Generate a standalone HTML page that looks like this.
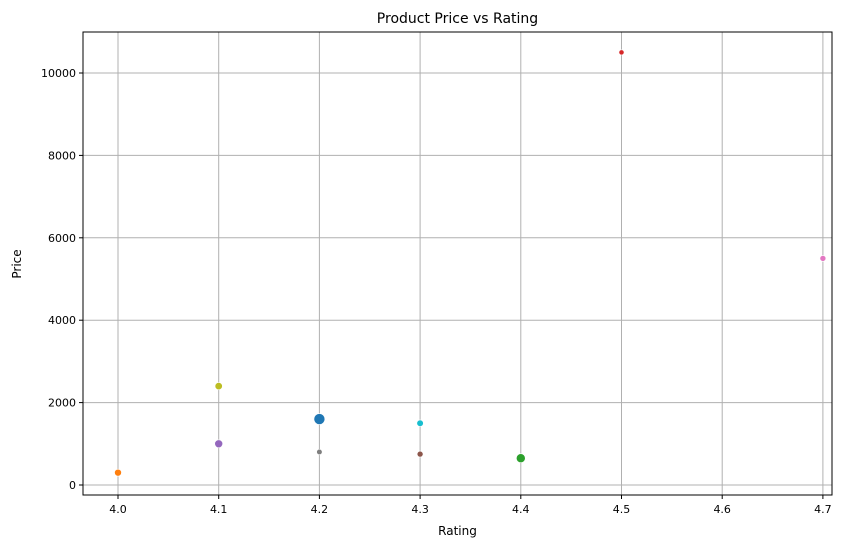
<!DOCTYPE html>
<html><head><meta charset="utf-8"><style>body{margin:0;background:#fff}svg{font-family:"DejaVu Sans","Liberation Sans",sans-serif}</style></head>
<body>
<svg id="c" width="868" height="547"></svg>
<script>
const ratings=[4.2,4.0,4.4,4.5,4.1,4.3,4.7,4.2,4.1,4.3];
const prices=[1600,300,650,10500,1000,750,5500,800,2400,1500];
const sizes=[5.5,3.5,4.5,2.6,4,3,3,2.8,3.7,3.3];
const colors=["#1f77b4","#ff7f0e","#2ca02c","#d62728","#9467bd","#8c564b","#e377c2","#7f7f7f","#bcbd22","#17becf"];
const xTicks=["4.0","4.1","4.2","4.3","4.4","4.5","4.6","4.7"];
const yTicks=["0","2000","4000","6000","8000","10000"];
const L=83,R=832,T=32,B=495;
const X=v=>118+(v-4.0)*1007;
const Y=v=>485-v*0.0412;
const s=document.getElementById('c');const NS="http://www.w3.org/2000/svg";
function mk(t,a,p){const e=document.createElementNS(NS,t);for(const k in a)e.setAttribute(k,a[k]);(p||s).appendChild(e);return e;}
xTicks.forEach(t=>{const x=X(+t);
const g=mk('line',{x1:x,x2:x,y1:T,y2:B,stroke:'#b0b0b0','stroke-width':1});

const k=mk('line',{x1:x,x2:x,y1:B,y2:B+4,stroke:'#000'});

const l=mk('text',{x:x,y:B+18,'text-anchor':'middle','font-size':11});l.textContent=t;
});
yTicks.forEach(t=>{const y=Y(+t);
const g=mk('line',{x1:L,x2:R,y1:y,y2:y,stroke:'#b0b0b0','stroke-width':1});

const k=mk('line',{x1:L-4,x2:L,y1:y,y2:y,stroke:'#000'});

const l=mk('text',{x:L-7,y:y+4,'text-anchor':'end','font-size':11});l.textContent=t;
});
ratings.forEach((r,i)=>{const c=mk('circle',{cx:X(r),cy:Y(prices[i]),r:sizes[i],fill:colors[i],stroke:'#fff','stroke-width':0.6});
});
const f=mk('rect',{x:L,y:T,width:R-L,height:B-T,fill:'none',stroke:'#000','stroke-width':1});

const ti=mk('text',{x:(L+R)/2,y:23,'text-anchor':'middle','font-size':14});ti.textContent='Product Price vs Rating';

const xt=mk('text',{x:(L+R)/2,y:535,'text-anchor':'middle','font-size':12});xt.textContent='Rating';

const yt=mk('text',{x:21,y:264,'text-anchor':'middle','font-size':12,transform:'rotate(-90 21 264)'});yt.textContent='Price';

</script>
</body></html>
